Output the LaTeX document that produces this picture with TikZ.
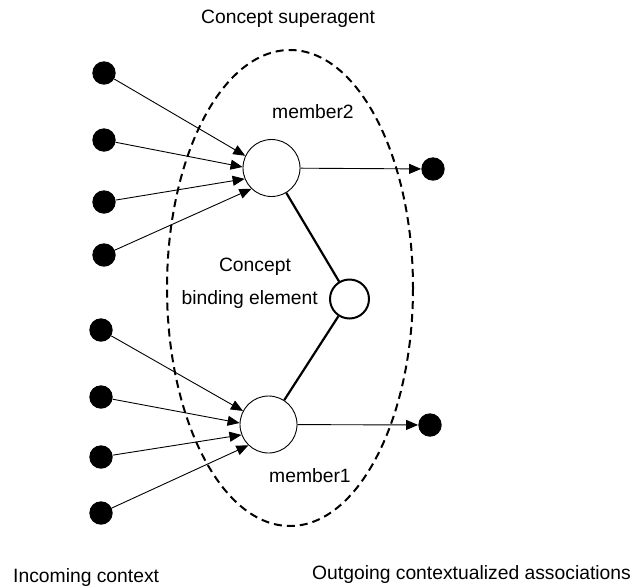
\documentclass[tikz,border=0pt]{standalone}
\usepackage{fontspec}
\setmainfont{Liberation Sans}
\usetikzlibrary{arrows.meta}
\begin{document}
\begin{tikzpicture}[x=1pt,y=-1pt,
  dot/.style={circle,fill=black,draw=none,minimum size=23.4pt,inner sep=0pt},
  member/.style={circle,draw=black,line width=0.9pt,minimum size=57pt,inner sep=0pt},
  binder/.style={circle,draw=black,line width=2pt,minimum size=39pt,inner sep=0pt},
  arr/.style={line width=0.9pt,-{Triangle[length=12pt,width=10pt]}},
  thickline/.style={line width=2.2pt},
  lbl/.style={inner sep=0pt,font=\fontsize{19.3}{23}\selectfont}]
\useasboundingbox (0,0) rectangle (635,587);
% dashed superagent ellipse
\draw[line width=2pt,dash pattern=on 8pt off 5pt] (290,288) ellipse [x radius=123, y radius=238];
% members
\node[member] (m2) at (271.5,168) {};
\node[member] (m1) at (268.5,424.5) {};
\node[binder] (b) at (349.5,299) {};
% incoming dots
\node[dot] (a1) at (104,73) {};
\node[dot] (a2) at (104,140) {};
\node[dot] (a3) at (104,202) {};
\node[dot] (a4) at (104,255) {};
\node[dot] (c1) at (101,330) {};
\node[dot] (c2) at (101,397) {};
\node[dot] (c3) at (101,457) {};
\node[dot] (c4) at (101,513) {};
% outgoing dots
\node[dot] (o2) at (433,169) {};
\node[dot] (o1) at (430,425) {};
% arrows
\draw[arr] (a1) -- (m2.155);
\draw[arr] (a2) -- (m2.178);
\draw[arr] (a3) -- (m2.202);
\draw[arr] (a4) -- (m2.226);
\draw[arr] (c1) -- (m1.152);
\draw[arr] (c2) -- (m1.177);
\draw[arr] (c3) -- (m1.201);
\draw[arr] (c4) -- (m1.226);
\draw[arr] (m2) -- (o2);
\draw[arr] (m1) -- (o1);
% binding
\draw[thickline] (m2) -- (b);
\draw[thickline] (m1) -- (b);
% labels
\node[lbl,anchor=base west] (t1) at (201,23.5) {Concept superagent};
\node[lbl,anchor=base west] (t2) at (272,118) {member2};
\node[lbl,anchor=base west] (t3) at (269,482) {member1};
\node[lbl,anchor=base] (t4) at (255,271) {Concept};
\node[lbl,anchor=base east] (t5) at (318,304) {binding element};
\node[lbl,anchor=base west] (t6) at (13,582) {Incoming context};
\node[lbl,anchor=base west] (t7) at (312,579) {Outgoing contextualized associations};
\end{tikzpicture}
\end{document}
